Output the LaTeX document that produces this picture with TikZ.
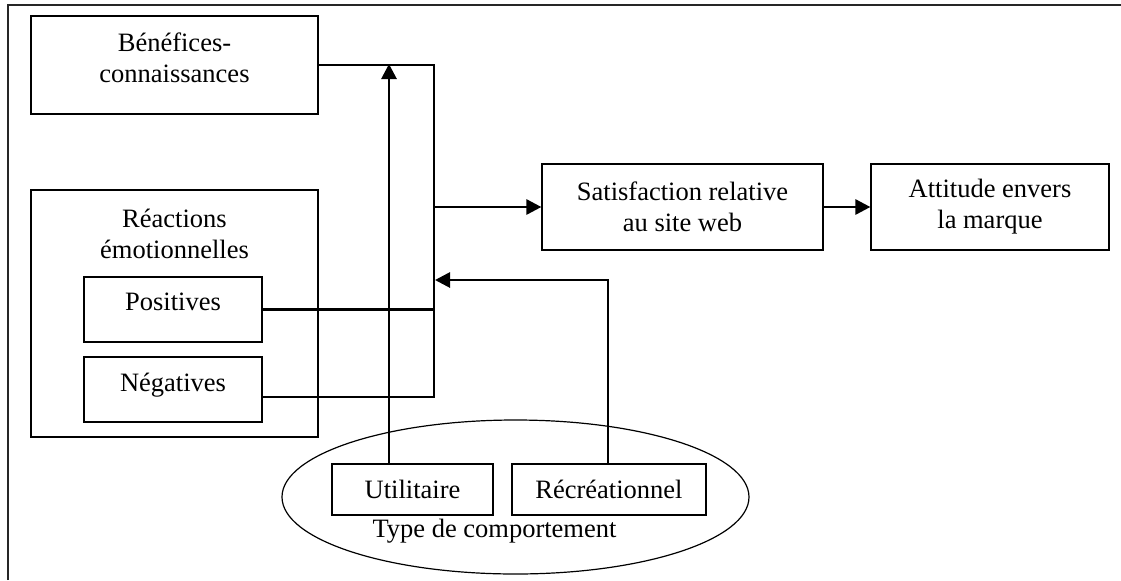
\documentclass[tikz,border=0pt]{standalone}
\usepackage{fontspec}
\setmainfont{Liberation Serif}
\usetikzlibrary{positioning,shapes.geometric,arrows.meta}

\tikzset{
  boite/.style={draw, line width=0.6pt, align=center, inner sep=0pt},
  boitehaut/.style={boite, text depth=7.5pt},
  liaison/.style={line width=1.4pt},
  fleche/.style={liaison, -{Triangle[length=7.5pt,width=7.5pt]}},
}

\begin{document}
\begin{tikzpicture}[x=0.5pt, y=-0.5pt, font=\fontsize{13.25}{15.5}\selectfont]
\useasboundingbox (0,0) rectangle (1121,580);
\draw[line width=1pt, black!85] (7.5,580) -- (7.5,5) -- (1121,5);

% type de comportement
\node[ellipse, draw, line width=0.6pt, inner sep=0pt, minimum width=233.5pt, minimum height=77pt] (comport) at (515.5,497) {};
\node[boite, minimum width=80.5pt, minimum height=25.5pt] (util) at (412.5,489.5) {Utilitaire};
\node[boite, minimum width=97pt, minimum height=25.5pt] (recre) at (609,489.5) {Récréationnel};
\node[anchor=base, inner sep=0pt] (typecomp) at (494.5,537) {Type de comportement};

\node[boitehaut, minimum width=143.5pt, minimum height=49pt] (benef) at (174.5,65) {Bénéfices-\\connaissances};

\node[boite, minimum width=143.5pt, minimum height=123.5pt] (reactions) at (174.5,313.5) {};
\node[align=center, inner sep=0pt, below=9.5pt of reactions.north] (reactitre) {Réactions\\émotionnelles};
\node[boitehaut, minimum width=89pt, minimum height=32.5pt] (positives) at (173,309.5) {Positives};
\node[boitehaut, minimum width=89pt, minimum height=32.5pt] (negatives) at (173,389.5) {Négatives};

\node[boite, minimum width=140.5pt, minimum height=43pt] (satisf) at (682.5,207) {Satisfaction relative\\au site web};
\node[boite, minimum width=119pt, minimum height=43pt] (attitude) at (990,207) {Attitude envers\\la marque};

\coordinate (bushaut) at (434,65);
\coordinate (busbas) at (434,397);
\coordinate (flecheU) at (389,64);
\coordinate (recrecoin) at (608,280);
\coordinate (busR) at (435,280);

\draw[liaison] (benef.east) -- (bushaut) -- (busbas) -- (busbas -| negatives.east);
\draw[liaison] (positives.east) -- (positives.east -| bushaut);
\draw[fleche] (bushaut |- satisf.west) -- (satisf.west);
\draw[fleche] (satisf) -- (attitude);
\draw[fleche] (util.north -| flecheU) -- (flecheU);
\draw[fleche] (recre.north -| recrecoin) -- (recrecoin) -- (busR);
\end{tikzpicture}
\end{document}
